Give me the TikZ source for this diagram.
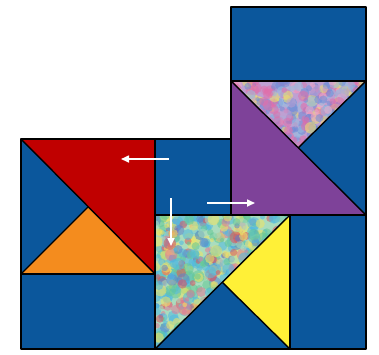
\documentclass[tikz,border=0pt]{standalone}
\usetikzlibrary{arrows.meta}
\definecolor{qblue}{RGB}{11,87,156}
\definecolor{qred}{RGB}{192,0,0}
\definecolor{qorange}{RGB}{244,140,30}
\definecolor{qpurple}{RGB}{126,66,153}
\definecolor{qyellow}{RGB}{255,240,55}
\definecolor{fa}{RGB}{100,200,150}
\definecolor{fb}{RGB}{80,185,225}
\definecolor{fc}{RGB}{240,228,100}
\definecolor{fd}{RGB}{225,120,150}
\definecolor{fe}{RGB}{90,130,205}
\definecolor{ff}{RGB}{170,220,190}
\definecolor{fg}{RGB}{220,85,95}
\definecolor{ga}{RGB}{225,110,170}
\definecolor{gb}{RGB}{110,140,215}
\definecolor{gc}{RGB}{235,225,110}
\definecolor{gd}{RGB}{190,160,210}
\definecolor{ge}{RGB}{150,190,225}
\definecolor{gf}{RGB}{240,170,200}
\pgfmathdeclarerandomlist{fabone}{{fa}{fb}{fc}{fd}{fe}{ff}{fg}{fb}{fc}{fa}{fb}}
\pgfmathdeclarerandomlist{fabtwo}{{ga}{gb}{gc}{gd}{ge}{gf}{ga}{gb}}
\begin{document}
\begin{tikzpicture}[x=1pt,y=-1pt,
  piece/.style={draw=black,line width=1.4pt,line join=round},
  arr/.style={white,line width=1.6pt,-{Triangle[length=8pt,width=7pt]}}]
\useasboundingbox (0,0) rectangle (379,354);
\pgfmathsetseed{7}
% backgrounds blue
\fill[qblue] (21,139) rectangle (155,349);
\fill[qblue] (155,139) rectangle (231,215);
\fill[qblue] (231,7) rectangle (366,349);
\fill[qblue] (155,215) rectangle (290,349);
% left block
\fill[qred] (21,139) -- (155,139) -- (155,274) -- cycle;
\fill[qorange] (21,274) -- (155,274) -- (88,207) -- cycle;
% right block
\fill[qpurple] (231,81) -- (231,215) -- (366,215) -- cycle;
% fabric top
\begin{scope}
\clip (231,81) -- (366,81) -- (298,148) -- cycle;
\fill[gd] (231,81) rectangle (366,148);
\foreach \i in {1,...,500}{
  \pgfmathrandomitem{\cc}{fabtwo}
  \pgfmathsetmacro\px{231+135*rnd}
  \pgfmathsetmacro\py{81+67*rnd}
  \pgfmathsetmacro\pr{2+4*rnd}
  \fill[\cc,opacity=0.55] (\px,\py) circle (\pr);
}
\end{scope}
% bottom middle
\fill[qyellow] (290,215) -- (290,349) -- (222,282) -- cycle;
\begin{scope}
\clip (155,215) -- (290,215) -- (155,349) -- cycle;
\fill[ff] (155,215) rectangle (290,349);
\foreach \i in {1,...,900}{
  \pgfmathrandomitem{\cc}{fabone}
  \pgfmathsetmacro\px{155+135*rnd}
  \pgfmathsetmacro\py{215+134*rnd}
  \pgfmathsetmacro\pr{2+4.5*rnd}
  \fill[\cc,opacity=0.55] (\px,\py) circle (\pr);
}
\end{scope}
% outlines
\draw[piece] (21,139) rectangle (155,274);
\draw[piece] (21,274) rectangle (155,349);
\draw[piece] (155,139) rectangle (231,215);
\draw[piece] (231,7) rectangle (366,81);
\draw[piece] (231,81) rectangle (366,215);
\draw[piece] (155,215) rectangle (290,349);
\draw[piece] (290,215) rectangle (366,349);
\draw[piece] (21,139) -- (155,274);
\draw[piece] (21,274) -- (88,207);
\draw[piece] (231,81) -- (366,215);
\draw[piece] (366,81) -- (298,148);
\draw[piece] (290,215) -- (155,349);
\draw[piece] (290,349) -- (222,282);
% arrows
\coordinate (a1s) at (169,159); \coordinate (a1e) at (121,159);
\coordinate (a2s) at (171,198); \coordinate (a2e) at (171,246);
\coordinate (a3s) at (207,203); \coordinate (a3e) at (255,203);
\draw[arr] (a1s) -- (a1e);
\draw[arr] (a2s) -- (a2e);
\draw[arr] (a3s) -- (a3e);
\end{tikzpicture}
\end{document}
